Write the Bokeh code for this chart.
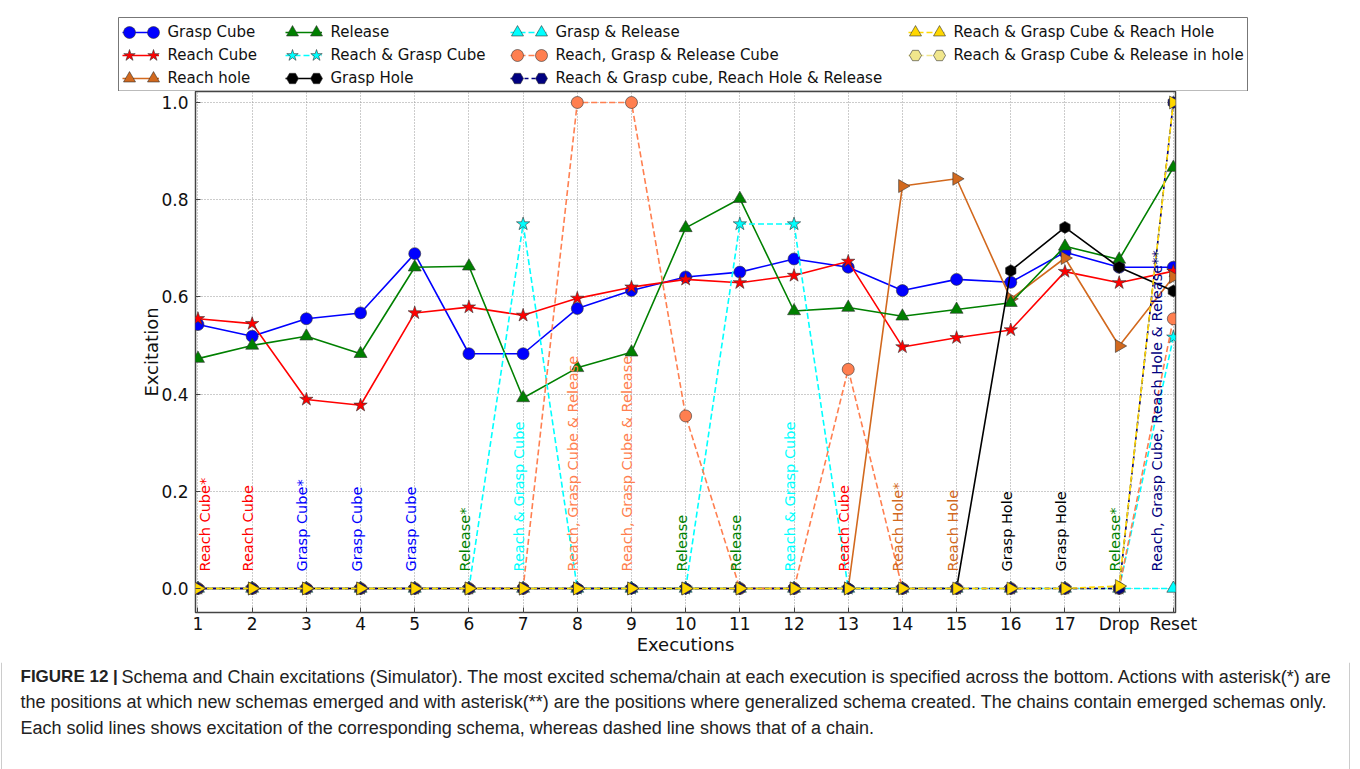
import math
from bokeh.plotting import figure
from bokeh.models import (Legend, LegendItem, FixedTicker, Label, BoxAnnotation,
                          ColumnDataSource, NumeralTickFormatter, Range1d, Span)
from bokeh.core.properties import value
from bokeh.embed import file_html
from bokeh.resources import INLINE

# ---------------- data ----------------
executions = list(range(1, 20))
tick_names = [str(i) for i in range(1, 18)] + ["Drop", "Reset"]

grasp_cube = [0.543, 0.519, 0.555, 0.567, 0.689, 0.483, 0.483, 0.576, 0.613, 0.641,
              0.651, 0.678, 0.661, 0.613, 0.636, 0.630, 0.692, 0.661, 0.661]
reach_cube = [0.555, 0.545, 0.389, 0.377, 0.567, 0.579, 0.562, 0.597, 0.620, 0.636,
              0.629, 0.644, 0.673, 0.497, 0.516, 0.532, 0.652, 0.629, 0.653]
reach_hole = [0, 0, 0, 0, 0, 0, 0, 0, 0, 0, 0, 0, 0,
              0.828, 0.843, 0.596, 0.680, 0.499, 0.641]
release = [0.473, 0.500, 0.519, 0.483, 0.661, 0.663, 0.392, 0.454, 0.486, 0.742,
           0.802, 0.571, 0.578, 0.560, 0.574, 0.588, 0.704, 0.677, 0.866]
reach_grasp_cube = [0, 0, 0, 0, 0, 0, 0.75, 0, 0, 0, 0.75, 0.75, 0, 0, 0, 0, 0, 0, 0.517]
grasp_hole = [0, 0, 0, 0, 0, 0, 0, 0, 0, 0, 0, 0, 0, 0, 0, 0.654, 0.743, 0.661, 0.612]
grasp_release = [0] * 19
reach_grasp_release_cube = [0, 0, 0, 0, 0, 0, 0, 1.0, 1.0, 0.355, 0, 0, 0.451,
                            0, 0, 0, 0, 0, 0.555]
rg_cube_rh_release = [0] * 18 + [1.0]
rg_cube_reach_hole = [0] * 17 + [0.005, 1.0]
rg_cube_release_hole = [0] * 18 + [1.0]

series_names = ["Grasp Cube", "Reach Cube", "Reach hole", "Release", "Reach & Grasp Cube",
                "Grasp Hole", "Grasp & Release", "Reach, Grasp & Release Cube",
                "Reach & Grasp cube, Reach Hole & Release", "Reach & Grasp Cube & Reach Hole",
                "Reach & Grasp Cube & Release in hole"]
series_values = [grasp_cube, reach_cube, reach_hole, release, reach_grasp_cube, grasp_hole,
                 grasp_release, reach_grasp_release_cube, rg_cube_rh_release,
                 rg_cube_reach_hole, rg_cube_release_hole]

# most excited schema/chain per execution (bottom annotations)
best_labels = ["Reach Cube*", "Reach Cube", "Grasp Cube*", "Grasp Cube", "Grasp Cube",
               "Release*", "Reach & Grasp Cube", "Reach, Grasp Cube & Release",
               "Reach, Grasp Cube & Release", "Release", "Release", "Reach & Grasp Cube",
               "Reach Cube", "Reach Hole*", "Reach Hole", "Grasp Hole", "Grasp Hole",
               "Release*", "Reach, Grasp Cube, Reach Hole & Release**"]
best_label_x = [1.2, 2, 3, 4, 5, 6, 7, 8, 9, 10, 11, 12, 13, 14, 15, 16, 17, 18, 18.78]

caption_bold = "FIGURE 12 |"
caption_lines = [
    "Schema and Chain excitations (Simulator). The most excited schema/chain at each execution is specified across the bottom. Actions with asterisk(*) are",
    "the positions at which new schemas emerged and with asterisk(**) are the positions where generalized schema created. The chains contain emerged schemas only.",
    "Each solid lines shows excitation of the corresponding schema, whereas dashed line shows that of a chain.",
]

# ---------------- styles ----------------
styles = [
    dict(color="#0000ff", marker="circle", dash="solid", size=12, angle=0),
    dict(color="#ff0000", marker="star", dash="solid", size=14, angle=0),
    dict(color="#d2691e", marker="triangle", dash="solid", size=13, angle=-math.pi / 2),
    dict(color="#008000", marker="triangle", dash="solid", size=13, angle=0),
    dict(color="#00ffff", marker="star", dash="6 3", size=14, angle=0),
    dict(color="#000000", marker="hex", dash="solid", size=12, angle=math.pi / 6),
    dict(color="#00ffff", marker="triangle", dash="6 3", size=13, angle=0),
    dict(color="#ff7f50", marker="circle", dash="6 3", size=12, angle=0),
    dict(color="#000080", marker="hex", dash="4 3", size=12, angle=math.pi / 6),
    dict(color="#ffd700", marker="triangle", dash="6 3", size=13, angle=-math.pi / 2),
    dict(color="#f0e68c", marker="hex", dash="6 3", size=11, angle=0),
]
draw_order = [0, 1, 2, 3, 4, 5, 6, 7, 10, 8, 9]
label_colors = ["#ff0000", "#ff0000", "#0000ff", "#0000ff", "#0000ff", "#008000", "#00ffff",
                "#ff7f50", "#ff7f50", "#008000", "#008000", "#00ffff", "#ff0000", "#d2691e",
                "#d2691e", "#000000", "#000000", "#008000", "#000080"]

FONT = "DejaVu Sans"
W = 1360
LEG_H = 91
FL, FW, FH = 195, 980, 521
MAIN_H = 571
CAP_H = 769 - LEG_H - MAIN_H

# ---------------- legend strip ----------------
lg = figure(width=W, height=LEG_H, x_range=Range1d(0, W), y_range=Range1d(LEG_H, 0),
            output_backend="svg", toolbar_location=None, min_border=0,
            x_axis_location=None, y_axis_location=None)
lg.extra_x_ranges = {"off": Range1d(1000, 2000)}
lg.extra_y_ranges = {"off": Range1d(1000, 2000)}
lg.grid.visible = False
lg.outline_line_color = None
lg.add_layout(BoxAnnotation(left=118, right=1247, top=17, bottom=LEG_H - 0.5,
                            fill_color="white", fill_alpha=1, line_color="#777777",
                            line_width=1, line_alpha=1, level="underlay"))
leg_line, leg_scat = [], []
for st, vals in zip(styles, series_values):
    src = ColumnDataSource(dict(x=executions, y=vals))
    leg_line.append(lg.line("x", "y", source=src, x_range_name="off", y_range_name="off",
                            line_color=st["color"], line_width=1.6, line_dash=st["dash"]))
    leg_scat.append(lg.scatter("x", "y", source=src, x_range_name="off", y_range_name="off",
                               marker=st["marker"], size=st["size"], angle=st["angle"],
                               fill_color=st["color"], line_color="#333333", line_width=0.6))
cols = [[0, 1, 2], [3, 4, 5], [6, 7, 8], [9, 10]]
col_left = [122, 285, 510, 908]
row_center = [32, 55, 78]
HANDLE = 37          # handle length (px)
MBOX = 30            # marker legend box -> marker size 0.4 * 30 = 12 px
base = dict(padding=0, margin=0, border_line_alpha=0, background_fill_alpha=0,
            label_text_font=FONT, label_text_font_size="15px", label_text_color="#111111")
for idxs, cl in zip(cols, col_left):
    n = len(idxs)
    # handle line spanning both markers (20 px rows, pitch 23)
    h_line = n * 20 + (n - 1) * 3
    lg.add_layout(Legend(items=[LegendItem(label="", renderers=[leg_line[i]]) for i in idxs],
                         location=(cl, LEG_H - (row_center[0] - 10) - h_line),
                         glyph_width=HANDLE, glyph_height=20, label_height=20, spacing=3,
                         label_standoff=0, label_width=0, **base))
    # markers at both ends of the handle, one legend per row
    for r, i in enumerate(idxs):
        loc_y = LEG_H - (row_center[r] + MBOX / 2)
        lg.add_layout(Legend(items=[LegendItem(label="", renderers=[leg_scat[i]])],
                             location=(cl + 6.5 - MBOX / 2, loc_y), glyph_width=MBOX,
                             glyph_height=MBOX, label_height=MBOX, spacing=0,
                             label_standoff=0, label_width=0, **base))
        lg.add_layout(Legend(items=[LegendItem(label=series_names[i], renderers=[leg_scat[i]])],
                             location=(cl + HANDLE - 6.5 - MBOX / 2, loc_y), glyph_width=MBOX,
                             glyph_height=MBOX, label_height=MBOX, spacing=0,
                             label_standoff=0, **base))

# ---------------- main chart ----------------
p = figure(frame_width=FW, frame_height=FH, x_range=(0.954, 19.04), y_range=(-0.0494, 1.0226),
           output_backend="svg", toolbar_location=None,
           min_border_left=FL, min_border_right=W - FL - FW,
           min_border_top=0, min_border_bottom=MAIN_H - FH)
p.background_fill_color = "white"
p.border_fill_color = "white"
p.outline_line_color = "#444444"
p.outline_line_width = 1.5

for i in draw_order:
    st = styles[i]
    src = ColumnDataSource(dict(x=executions, y=series_values[i]))
    p.line("x", "y", source=src, line_color=st["color"], line_width=1.6, line_dash=st["dash"])
    p.scatter("x", "y", source=src, marker=st["marker"], size=st["size"], angle=st["angle"],
              fill_color=st["color"], line_color="#333333", line_width=0.6)

lab_src = ColumnDataSource(dict(x=best_label_x, y=[0.035] * len(best_labels),
                                text=best_labels, color=label_colors))
p.text("x", "y", text="text", source=lab_src, angle=math.pi / 2, text_color="color",
       text_font=value(FONT), text_font_size="14.5px", text_align="left",
       text_baseline="alphabetic", x_offset=-4)

p.xaxis.ticker = FixedTicker(ticks=executions)
p.xaxis.major_label_overrides = {x: t for x, t in zip(executions, tick_names)}
p.yaxis.ticker = FixedTicker(ticks=[0.0, 0.2, 0.4, 0.6, 0.8, 1.0])
p.yaxis.formatter = NumeralTickFormatter(format="0.0")
p.xaxis.axis_label = "Executions"
p.yaxis.axis_label = "Excitation"
for ax in (p.xaxis[0], p.yaxis[0]):
    ax.axis_line_color = None
    ax.major_tick_in = 5
    ax.major_tick_out = 0
    ax.major_tick_line_color = "#444444"
    ax.minor_tick_line_color = None
    ax.major_label_text_font = FONT
    ax.major_label_text_font_size = "17px"
    ax.major_label_text_color = "#111111"
    ax.axis_label_text_font = FONT
    ax.axis_label_text_font_size = "18px"
    ax.axis_label_text_font_style = "normal"
    ax.axis_label_text_color = "#111111"
p.xaxis.major_label_standoff = 1
p.yaxis.major_label_standoff = 7
p.xaxis.axis_label_standoff = -3
p.yaxis.axis_label_standoff = -4

p.grid.grid_line_color = "#999999"
p.grid.grid_line_dash = "1 2"
p.grid.grid_line_width = 1

# ---------------- caption ----------------
cap = figure(width=W, height=CAP_H, x_range=Range1d(0, W), y_range=Range1d(CAP_H, 0),
             output_backend="svg", toolbar_location=None, min_border=0,
             x_axis_location=None, y_axis_location=None)
cap.grid.visible = False
cap.outline_line_color = None
for xv in (1, 1349):
    cap.add_layout(Span(location=xv, dimension="height", line_color="#cccccc", line_width=1))
CAP_FONT = "Liberation Sans"
cap_y = [676 - LEG_H - MAIN_H, 701 - LEG_H - MAIN_H, 727 - LEG_H - MAIN_H]
cap.add_layout(Label(x=20, y=cap_y[0], text=caption_bold, text_font=CAP_FONT,
                     text_font_style="bold", text_font_size="17px", text_baseline="middle",
                     text_color="#222222"))
cap.add_layout(Label(x=121, y=cap_y[0], text=caption_lines[0], text_font=CAP_FONT,
                     text_font_size="18px", text_baseline="middle", text_color="#222222"))
for t, yy in zip(caption_lines[1:], cap_y[1:]):
    cap.add_layout(Label(x=20, y=yy, text=t, text_font=CAP_FONT, text_font_size="18px",
                         text_baseline="middle", text_color="#222222"))

open("out.html", "w").write(file_html([lg, p, cap], INLINE))
